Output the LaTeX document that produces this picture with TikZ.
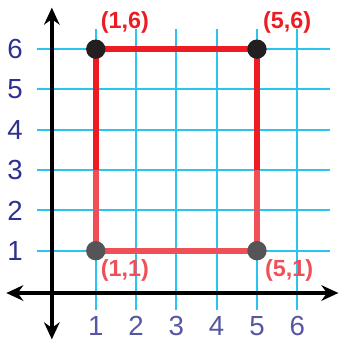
\documentclass[tikz,border=0pt]{standalone}
\usepackage{fontspec}
\setmainfont{Liberation Sans}
\usepackage{xcolor}
\definecolor{gridcyan}{HTML}{2BC4F0}
\definecolor{rectred}{HTML}{ED1C24}
\definecolor{lowred}{HTML}{EF5058}
\definecolor{ynavy}{HTML}{2E3192}
\definecolor{xnavy}{HTML}{5657A3}
\definecolor{dotblack}{HTML}{231F20}
\definecolor{dotgray}{HTML}{555557}
\usetikzlibrary{arrows.meta, positioning}

\tikzset{
  gridline/.style={gridcyan, line width=1.4pt},
  axisline/.style={line width=2.6pt, {Stealth[length=12pt,width=11pt]}-{Stealth[length=12pt,width=11pt]}},
  sideline/.style={rectred, line width=4pt},
  vertex/.style={circle, minimum size=0.48cm, inner sep=0pt},
  ticklab/.style={font=\fontsize{19.5}{22}\selectfont},
  ptlab/.style={font=\fontsize{16.5}{19}\selectfont\bfseries}
}

\begin{document}
\begin{tikzpicture}
\useasboundingbox (-1.376,-1.315) rectangle (7.064,7.22);

% grid
\foreach \i in {1,...,6}{
  \draw[gridline] (\i,-0.47) -- (\i,6.5);
  \draw[gridline] (-0.46,\i) -- (6.8,\i);
}

% axes
\coordinate (xl) at (-1.22,-0.05);
\coordinate (xr) at (7.02,-0.05);
\coordinate (yb) at (-0.09,-1.2);
\coordinate (yt) at (-0.09,7.03);
\draw[axisline] (xl) -- (xr);
\draw[axisline] (yb) -- (yt);

% tick labels
\foreach \i in {1,...,6}{
  \node[ticklab, ynavy] (ylab\i) at (-1.0,\i) {\i};
  \node[ticklab, xnavy] (xlab\i) at (\i,-0.86) {\i};
}

% rectangle corners
\coordinate (A) at (1,1);
\coordinate (B) at (5,1);
\coordinate (C) at (5,6);
\coordinate (D) at (1,6);
\draw[sideline] (D) -- (C) -- (5,3);
\draw[sideline] (D) -- (1,3);
\draw[sideline, lowred] (1,3) -- (A) -- (B) -- (5,3);

\node[vertex, fill=dotblack] (pD) at (D) {};
\node[vertex, fill=dotblack] (pC) at (C) {};
\node[vertex, fill=dotgray] (pA) at (A) {};
\node[vertex, fill=dotgray] (pB) at (B) {};

\node[ptlab, rectred] (lD) at (1.72,6.67) {(1,6)};
\node[ptlab, rectred] (lC) at (5.75,6.67) {(5,6)};
\node[ptlab, lowred] (lA) at (1.72,0.52) {(1,1)};
\node[ptlab, lowred] (lB) at (5.8,0.52) {(5,1)};
\end{tikzpicture}
\end{document}
